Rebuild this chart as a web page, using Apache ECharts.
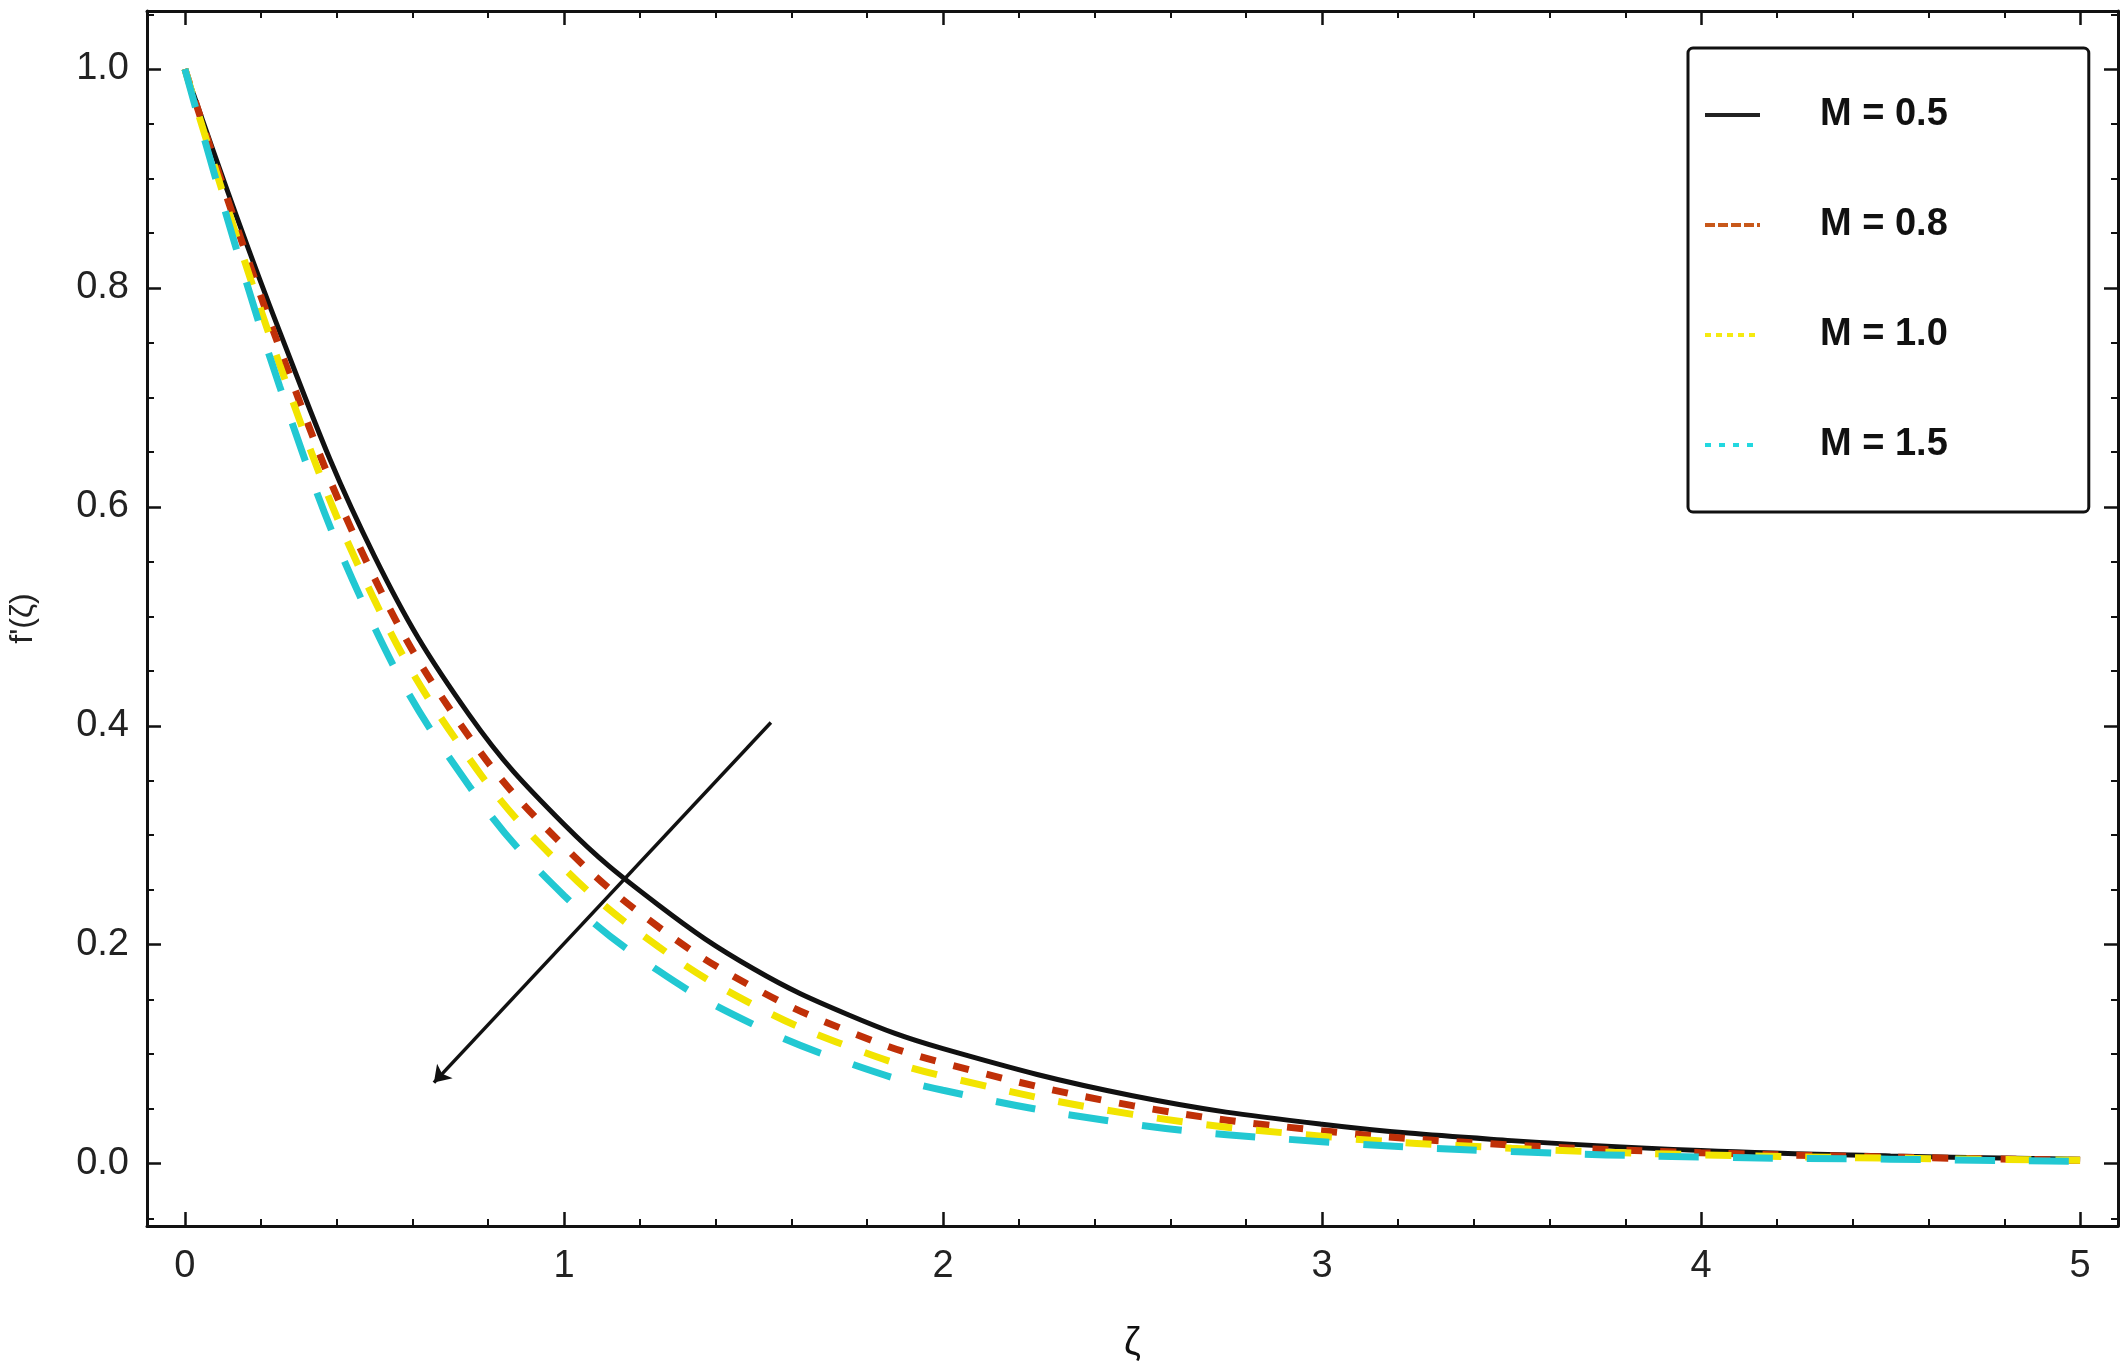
<!DOCTYPE html>
<html>
<head>
<meta charset="utf-8">
<script src="https://cdn.jsdelivr.net/npm/echarts@6/dist/echarts.min.js"></script>
<style>
html,body{margin:0;padding:0;background:#fff;}
#chart{width:2128px;height:1361px;}
</style>
</head>
<body>
<div id="chart"></div>
<script>
// ---- data ----
var zeta = [0, 0.25, 0.5, 0.75, 1, 1.25, 1.5, 1.75, 2, 2.5, 3, 3.5, 4, 4.5, 5];
var seriesNames = ['M = 0.5', 'M = 0.8', 'M = 1.0', 'M = 1.5'];
var fM05 = [1, 0.760, 0.555, 0.410, 0.310, 0.236, 0.178, 0.136, 0.105, 0.062, 0.036, 0.021, 0.012, 0.007, 0.004];
var fM08 = [1, 0.745, 0.535, 0.390, 0.290, 0.216, 0.161, 0.121, 0.092, 0.053, 0.030, 0.017, 0.010, 0.006, 0.003];
var fM10 = [1, 0.730, 0.515, 0.370, 0.270, 0.198, 0.145, 0.107, 0.080, 0.045, 0.025, 0.014, 0.008, 0.005, 0.003];
var fM15 = [1, 0.710, 0.490, 0.345, 0.245, 0.176, 0.127, 0.092, 0.067, 0.036, 0.020, 0.011, 0.006, 0.004, 0.002];
// arrow annotation (start, end) in data coordinates
var arrowFrom = [1.546, 0.403];
var arrowTo = [0.657, 0.074];

function pairs(ys){ return zeta.map(function(x,i){ return [x, ys[i]]; }); }

var colors = ['#111111', '#c03008', '#f2e400', '#22c8d2'];
var legendColors = ['#222222', '#c8581a', '#f5ea10', '#22d8e0'];
var dashes = ['solid', [16, 18], [26, 24], [40, 34]];
var widths = [5, 7, 7, 7];
var legendTypes = ['solid', [10, 3], [6, 5], [6, 8]];
var allData = [fM05, fM08, fM10, fM15];

var font = 'Liberation Sans, Arial, Helvetica, sans-serif';
var labelStyle = {fontFamily: font, fontSize: 38, color: '#222'};

function axisCommon(extra){
  var a = {
    type: 'value',
    axisLine: {show: true, onZero: false, lineStyle: {color: '#111', width: 3}},
    axisTick: {show: true, inside: true, length: 14, lineStyle: {color: '#111', width: 2.5}},
    minorTick: {show: true, length: 7, lineStyle: {color: '#111', width: 2}},
    splitLine: {show: false},
    minorSplitLine: {show: false}
  };
  for (var k in extra) a[k] = extra[k];
  return a;
}

var series = seriesNames.map(function(name, i){
  return {
    name: name,
    type: 'line',
    data: pairs(allData[i]),
    smooth: 0.4,
    symbol: 'none',
    xAxisIndex: 0, yAxisIndex: 0,
    lineStyle: {color: colors[i], width: widths[i], type: dashes[i], cap: 'butt'},
    itemStyle: {color: colors[i]}
  };
});
series[0].markLine = {
  silent: true,
  symbol: ['none', 'arrow'],
  symbolSize: 16,
  label: {show: false},
  lineStyle: {color: '#111', width: 3.5, type: 'solid'},
  data: [[{coord: arrowFrom}, {coord: arrowTo}]]
};

var option = {
  animation: false,
  backgroundColor: '#fff',
  grid: {left: 147, top: 11, right: 10, bottom: 135, containLabel: false, outerBoundsMode: 'none'},
  xAxis: [
    axisCommon({
      position: 'bottom', min: -0.1, max: 5.1, splitNumber: 5,
      minorTick: {show: true, splitNumber: 5, length: 7, lineStyle: {color: '#111', width: 2}},
      axisLabel: Object.assign({margin: 22, showMinLabel: false, showMaxLabel: false}, labelStyle),
      name: 'ζ', nameLocation: 'middle', nameGap: 99,
      nameTextStyle: {fontFamily: font, fontSize: 38, color: '#111'}
    }),
    axisCommon({
      position: 'top', min: -0.1, max: 5.1, splitNumber: 5,
      minorTick: {show: true, splitNumber: 5, length: 7, lineStyle: {color: '#111', width: 2}},
      axisLabel: {show: false}
    })
  ],
  yAxis: [
    axisCommon({
      position: 'left', min: -0.057, max: 1.053, splitNumber: 5,
      minorTick: {show: true, splitNumber: 4, length: 7, lineStyle: {color: '#111', width: 2}},
      axisLabel: Object.assign({margin: 18, showMinLabel: false, showMaxLabel: false,
        formatter: function(v){ return v.toFixed(1); }}, labelStyle),
      name: "f'(ζ)", nameLocation: 'middle', nameGap: 108, nameRotate: 90,
      nameTextStyle: {fontFamily: font, fontSize: 32, color: '#222'}
    }),
    axisCommon({
      position: 'right', min: -0.057, max: 1.053, splitNumber: 5,
      minorTick: {show: true, splitNumber: 4, length: 7, lineStyle: {color: '#111', width: 2}},
      axisLabel: {show: false}
    })
  ],
  legend: {
    orient: 'vertical',
    left: 1688, top: 48,
    padding: [47, 141, 47, 15],
    itemGap: 70,
    itemWidth: 55, itemHeight: 20,
    borderColor: '#111', borderWidth: 3, borderRadius: 5,
    backgroundColor: '#fff',
    textStyle: {fontFamily: font, fontSize: 38, fontWeight: 'bold', color: '#111',
      lineHeight: 40, padding: [0, 0, 0, 55]},
    data: seriesNames.map(function(n, i){
      return {name: n, itemStyle: {color: 'rgba(0,0,0,0)', borderWidth: 0, opacity: 0},
        lineStyle: {color: legendColors[i], width: 4, type: legendTypes[i]}};
    })
  },
  series: series
};

var chart = echarts.init(document.getElementById('chart'), null, {renderer: 'canvas'});
chart.setOption(option);
</script>
</body>
</html>
